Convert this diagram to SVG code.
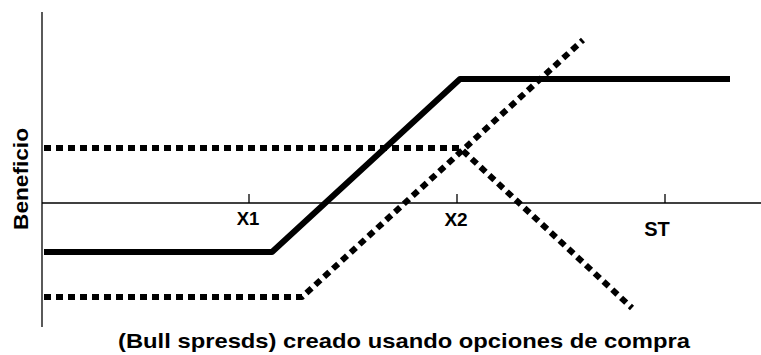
<svg xmlns="http://www.w3.org/2000/svg" width="761" height="355" viewBox="0 0 761 355">
<style>
.axis{stroke:#000;stroke-width:1.3;fill:none}
.solid{stroke:#000;stroke-width:6;fill:none;stroke-linejoin:round}
.dot{stroke:#000;stroke-width:6;fill:none;stroke-dasharray:7 5;stroke-linejoin:round}
.lbl{font-family:"Liberation Sans",Arial,sans-serif;font-weight:bold;fill:#000}
</style>
<rect width="761" height="355" fill="#fff"/>
<g id="axes">
<line class="axis" x1="42" y1="12" x2="42" y2="327"/>
<line class="axis" x1="42" y1="203" x2="761" y2="203"/>
<line class="axis" x1="249" y1="194" x2="249" y2="203"/>
<line class="axis" x1="457" y1="194" x2="457" y2="203"/>
<line class="axis" x1="665" y1="194" x2="665" y2="203"/>
</g>
<g id="connectors">
<polyline class="solid" points="44,252 272,252 460,79 730,79"/>
<polyline class="dot" points="44,297 302,297 583,40"/>
<polyline class="dot" points="44,148 460,148 632,308"/>
</g>
<g id="labels">
<text class="lbl" x="248" y="225" font-size="18.5" text-anchor="middle">X1</text>
<text class="lbl" x="456" y="226" font-size="19" text-anchor="middle">X2</text>
<text class="lbl" x="657" y="236" font-size="20" text-anchor="middle">ST</text>
<text class="lbl" x="0" y="0" font-size="21" text-anchor="middle" textLength="102" lengthAdjust="spacingAndGlyphs" transform="translate(28,179) rotate(-90)">Beneficio</text>
<text class="lbl" x="118" y="348" font-size="21" textLength="572" lengthAdjust="spacingAndGlyphs">(Bull spresds) creado usando opciones de compra</text>
</g>
</svg>
